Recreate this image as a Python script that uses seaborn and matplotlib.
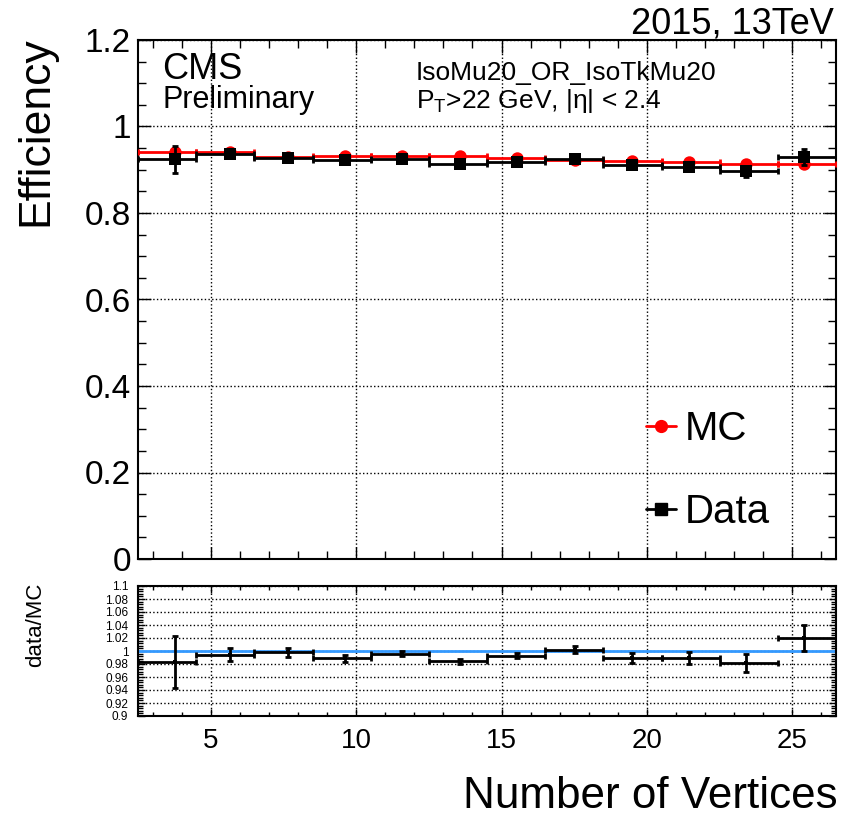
import numpy as np
import pandas as pd
import matplotlib
matplotlib.use("Agg")
import matplotlib.pyplot as plt
import seaborn as sns
from matplotlib.lines import Line2D
from matplotlib.ticker import MultipleLocator, FormatStrFormatter

# ---------------- data ----------------
bin_low = [2.5, 4.5, 6.5, 8.5, 10.5, 12.5, 14.5, 16.5, 18.5, 20.5, 22.5, 24.5]
bin_high = [4.5, 6.5, 8.5, 10.5, 12.5, 14.5, 16.5, 18.5, 20.5, 22.5, 24.5, 26.5]
nvtx_mean = [3.78, 5.68, 7.67, 9.62, 11.58, 13.56, 15.54, 17.51, 19.50, 21.46, 23.42, 25.40]

eff_mc = [0.942, 0.940, 0.930, 0.932, 0.931, 0.931, 0.927, 0.922, 0.920, 0.919, 0.914, 0.913]
eff_mc_err = [0.004, 0.002, 0.001, 0.001, 0.001, 0.001, 0.001, 0.001, 0.001, 0.002, 0.002, 0.003]
eff_data = [0.924, 0.936, 0.928, 0.922, 0.926, 0.914, 0.917, 0.924, 0.910, 0.907, 0.896, 0.930]
eff_data_err = [0.032, 0.009, 0.006, 0.005, 0.004, 0.004, 0.004, 0.005, 0.007, 0.009, 0.013, 0.018]

ratio = [0.983, 0.994, 0.998, 0.989, 0.996, 0.984, 0.993, 1.002, 0.989, 0.989, 0.981, 1.020]
ratio_err = [0.040, 0.010, 0.007, 0.0056, 0.004, 0.004, 0.004, 0.005, 0.0074, 0.0097, 0.014, 0.0195]

# ---------------- style ----------------
sns.set_theme(style="ticks")
plt.rcParams["font.family"] = ["Liberation Sans", "DejaVu Sans"]
plt.rcParams["axes.linewidth"] = 1.5
for key in ["text.color", "axes.labelcolor", "xtick.color", "ytick.color",
            "axes.edgecolor"]:
    plt.rcParams[key] = "black"

W, H = 846, 818
fig = plt.figure(figsize=(W / 100, H / 100), dpi=100)
fig.patch.set_facecolor("white")


def fx(px):
    return px / W


def fy(py):
    return 1 - py / H


L, R = 138, 836
ax = fig.add_axes([fx(L), fy(559), fx(R) - fx(L), fy(40) - fy(559)])
axr = fig.add_axes([fx(L), fy(716), fx(R) - fx(L), fy(586) - fy(716)])

df = pd.DataFrame({
    "nvtx": nvtx_mean,
    "lo": bin_low,
    "hi": bin_high,
    "mc": eff_mc,
    "mc_err": eff_mc_err,
    "data": eff_data,
    "data_err": eff_data_err,
    "ratio": ratio,
    "ratio_err": ratio_err,
})
xerr = [df["nvtx"] - df["lo"], df["hi"] - df["nvtx"]]

# ---------------- top panel ----------------
ax.errorbar(df["nvtx"], df["mc"], xerr=xerr, yerr=df["mc_err"], fmt="none",
            ecolor="red", elinewidth=2, capsize=2.5, capthick=2, zorder=3)
sns.scatterplot(data=df, x="nvtx", y="mc", marker="o", color="red", s=80,
                linewidth=0, ax=ax, zorder=4, legend=False)
ax.errorbar(df["nvtx"], df["data"], xerr=xerr, yerr=df["data_err"], fmt="none",
            ecolor="black", elinewidth=2, capsize=2.5, capthick=2, zorder=5)
sns.scatterplot(data=df, x="nvtx", y="data", marker="s", color="black", s=80,
                linewidth=0, ax=ax, zorder=6, legend=False)

ax.set_xlim(2.5, 26.5)
ax.set_ylim(0, 1.2)
ax.xaxis.set_major_locator(MultipleLocator(5))
ax.xaxis.set_minor_locator(MultipleLocator(1))
ax.yaxis.set_major_locator(MultipleLocator(0.2))
ax.yaxis.set_minor_locator(MultipleLocator(0.05))
ax.yaxis.set_major_formatter(FormatStrFormatter("%g"))
ax.tick_params(which="both", direction="in", top=True, right=True,
               labelbottom=False, width=1, color="black")
ax.tick_params(which="major", length=9, labelsize=24, pad=5)
ax.tick_params(which="minor", length=6)
ax.grid(True, which="major", linestyle=":", color="black", linewidth=1)
ax.set_xlabel("")
ax.set_ylabel("")
for s in ax.spines.values():
    s.set_color("black")
    s.set_linewidth(1.5)

handles = [
    Line2D([], [], color="red", marker="o", markersize=8.5, linewidth=2),
    Line2D([], [], color="black", marker="s", markersize=8.5, linewidth=2),
]
ax.legend(handles, ["MC", "Data"], loc="upper left",
          bbox_to_anchor=(fx(646), fy(410)), bbox_transform=fig.transFigure,
          frameon=False, fontsize=29, handlelength=0.75, handletextpad=0.2,
          labelspacing=1.12, borderpad=0, borderaxespad=0)

# ---------------- ratio panel ----------------
axr.axhline(1.0, color="#3399ff", linewidth=2, zorder=2)
axr.errorbar(df["nvtx"], df["ratio"], xerr=xerr, yerr=df["ratio_err"], fmt="none",
             ecolor="black", elinewidth=2, capsize=2.5, capthick=2, zorder=3)
sns.scatterplot(data=df, x="nvtx", y="ratio", marker="s", color="black", s=10,
                linewidth=0, ax=axr, zorder=4, legend=False)
axr.set_xlim(2.5, 26.5)
axr.set_ylim(0.9, 1.1)
axr.xaxis.set_major_locator(MultipleLocator(5))
axr.xaxis.set_minor_locator(MultipleLocator(1))
axr.yaxis.set_major_locator(MultipleLocator(0.02))
axr.yaxis.set_minor_locator(MultipleLocator(0.004))
axr.yaxis.set_major_formatter(FormatStrFormatter("%g"))
axr.tick_params(which="both", direction="in", top=True, right=True, width=1,
                color="black")
axr.tick_params(axis="y", which="major", length=5, labelsize=8.5, pad=7)
axr.tick_params(axis="y", which="minor", length=3.5)
axr.tick_params(axis="x", which="major", length=5, labelsize=20, pad=9)
axr.tick_params(axis="x", which="minor", length=3)
axr.grid(True, which="major", linestyle=":", color="black", linewidth=1)
axr.set_xlabel("")
axr.set_ylabel("")
for s in axr.spines.values():
    s.set_color("black")
    s.set_linewidth(1.5)

# ---------------- texts ----------------
fig.text(fx(834), fy(33), "2015, 13TeV", ha="right", va="baseline", fontsize=26)
fig.text(fx(162), fy(79), "CMS", ha="left", va="baseline", fontsize=26)
fig.text(fx(162), fy(108), "Preliminary", ha="left", va="baseline", fontsize=22)
fig.text(fx(416), fy(80), "IsoMu20_OR_IsoTkMu20", ha="left", va="baseline", fontsize=19)
fig.text(fx(416), fy(108), r"P$_{\mathregular{T}}$>22 GeV, |η| < 2.4", ha="left",
         va="baseline", fontsize=19)
fig.text(fx(36), fy(36), "Efficiency", rotation=90, ha="center", va="top", fontsize=32)
fig.text(fx(838), fy(808), "Number of Vertices", ha="right", va="baseline", fontsize=31.7)
fig.text(fx(36), fy(625), "data/MC", rotation=90, ha="center", va="center", fontsize=16)

fig.savefig("out.png", dpi=100, facecolor="white")
